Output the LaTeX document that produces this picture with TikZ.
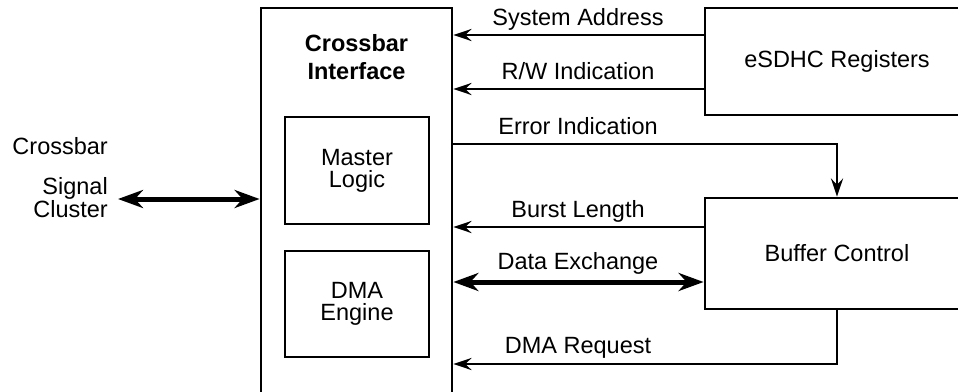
\documentclass[tikz,border=0pt]{standalone}
\usepackage{fontspec}
\setmainfont{Liberation Sans}
\usetikzlibrary{arrows.meta}
\begin{document}
\begin{tikzpicture}[x=1pt,y=-1pt,
  every node/.style={font=\fontsize{23.5}{22}\selectfont},
  box/.style={draw, line width=2.8pt, inner sep=0pt, align=center},
  thinline/.style={line width=2.8pt},
  arr/.style={thinline, -{Stealth[length=18pt,width=12pt,inset=6pt]}},
  dblarr/.style={line width=5pt, {Stealth[length=25pt,width=18pt,inset=8pt]}-{Stealth[length=25pt,width=18pt,inset=8pt]}},
  lbl/.style={anchor=base, inner sep=0pt}
]
\useasboundingbox (0,0) rectangle (958,391);
\clip (0,0) rectangle (958,391);

% main block and sub-blocks
\node[box, minimum width=191pt, minimum height=412pt] (xbar) at (356.5,214) {};
\node[align=center, inner sep=0pt, font=\fontsize{23.5}{28}\selectfont\bfseries] (xbarlbl) at (356.5,57.5) {Crossbar\\Interface};
\node[box, minimum width=144pt, minimum height=107pt] (master) at (357,170.5) {Master\\Logic};
\node[box, minimum width=144pt, minimum height=106pt] (dma) at (357,304) {DMA\\Engine};

% right blocks
\node[box, minimum width=264pt, minimum height=107pt] (esdhc) at (837,61.5) {eSDHC Registers};
\node[box, minimum width=264pt, minimum height=111pt] (buffer) at (837,253.5) {Buffer Control};

% left label
\node[align=right, inner sep=0pt, anchor=east, font=\fontsize{23.5}{20}\selectfont] (sig) at (108,177.5) {Crossbar\\[20pt]Signal\\Cluster};
\coordinate (cs) at (118,199);
\draw[dblarr] (cs) -- (xbar.west |- cs);

% connectors
\draw[arr] (esdhc.west |- 0,35) -- (xbar.east |- 0,35);
\node[lbl] (l1) at (578,25) {System Address};

\draw[arr] (esdhc.west |- 0,89) -- (xbar.east |- 0,89);
\node[lbl] (l2) at (578,79) {R/W Indication};

\draw[arr] (xbar.east |- 0,144) -| (buffer.north);
\node[lbl] (l3) at (578,134) {Error Indication};

\draw[arr] (buffer.west |- 0,227) -- (xbar.east |- 0,227);
\node[lbl] (l4) at (578,217) {Burst Length};

\draw[dblarr] (xbar.east |- 0,282) -- (buffer.west |- 0,282);
\node[lbl] (l5) at (578,269) {Data Exchange};

\draw[arr] (buffer.south) |- (xbar.east |- 0,364);
\node[lbl] (l6) at (578,353) {DMA Request};
\end{tikzpicture}
\end{document}
